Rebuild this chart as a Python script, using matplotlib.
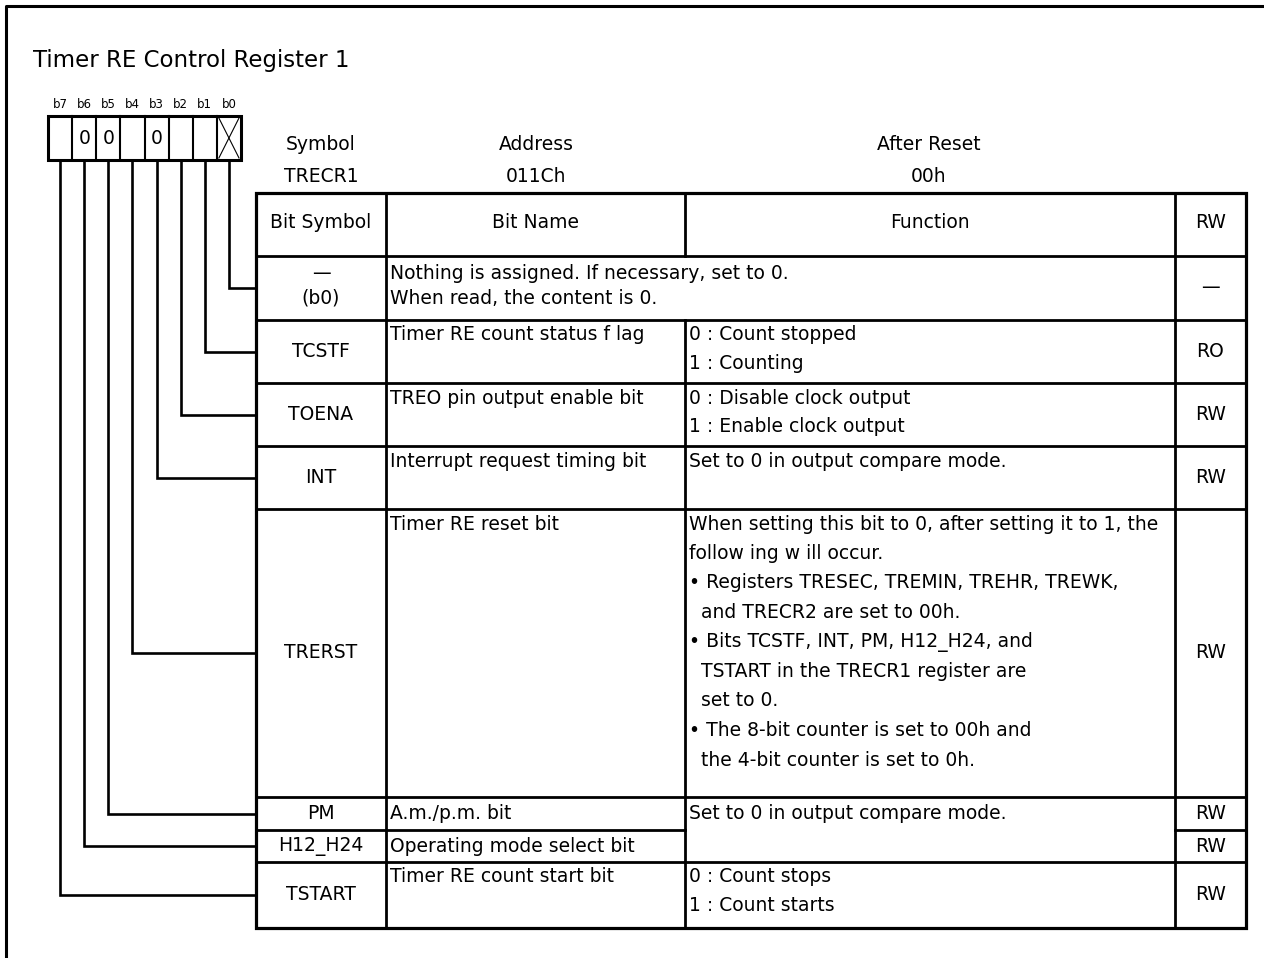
import matplotlib.pyplot as plt
from matplotlib.patches import Rectangle

plt.rcParams["font.family"] = ["DejaVu Sans"]

title = "Timer RE Control Register 1"

bit_labels = ["b7", "b6", "b5", "b4", "b3", "b2", "b1", "b0"]
bit_values = ["", "0", "0", "", "0", "", "", "X"]

info_heads = ["Symbol", "Address", "After Reset"]
info_values = ["TRECR1", "011Ch", "00h"]

headers = ["Bit Symbol", "Bit Name", "Function", "RW"]

# rows from b0 (top) to b7 (bottom)
symbols = [["—", "(b0)"], ["TCSTF"], ["TOENA"], ["INT"], ["TRERST"],
           ["PM"], ["H12_H24"], ["TSTART"]]
names = [["Nothing is assigned. If necessary, set to 0.",
          "When read, the content is 0."],
         ["Timer RE count status f lag"],
         ["TREO pin output enable bit"],
         ["Interrupt request timing bit"],
         ["Timer RE reset bit"],
         ["A.m./p.m. bit"],
         ["Operating mode select bit"],
         ["Timer RE count start bit"]]
functions = [None,
             ["0 : Count stopped", "1 : Counting"],
             ["0 : Disable clock output", "1 : Enable clock output"],
             ["Set to 0 in output compare mode."],
             ["When setting this bit to 0, after setting it to 1, the",
              "follow ing w ill occur.",
              "\u2022 Registers TRESEC, TREMIN, TREHR, TREWK,",
              "  and TRECR2 are set to 00h.",
              "\u2022 Bits TCSTF, INT, PM, H12_H24, and",
              "  TSTART in the TRECR1 register are",
              "  set to 0.",
              "\u2022 The 8-bit counter is set to 00h and",
              "  the 4-bit counter is set to 0h."],
             ["Set to 0 in output compare mode."],
             [],
             ["0 : Count stops", "1 : Count starts"]]
rw = ["—", "RO", "RW", "RW", "RW", "RW", "RW", "RW"]

# layout (pixels)
col_x = [256, 386, 685, 1175, 1246]
row_y = [193, 256, 320, 383, 446, 509, 797, 830, 862, 928]
box_x0, box_x1, box_y0, box_y1 = 48, 241, 116, 160
fs = 13.5
lw_tab = 2.0
k = "black"

fig = plt.figure(figsize=(12.64, 9.58), dpi=100)
ax = fig.add_axes([0, 0, 1, 1])
ax.set_xlim(0, 1264)
ax.set_ylim(958, 0)
ax.axis("off")

# outer frame
ax.plot([6, 6, 1264], [958, 6, 6], color=k, lw=2.2)
ax.text(33, 60, title, fontsize=16.5, ha="left", va="center")

# bit boxes
cw = (box_x1 - box_x0) / len(bit_labels)
ax.add_patch(Rectangle((box_x0, box_y0), box_x1 - box_x0, box_y1 - box_y0,
                       fill=False, ec=k, lw=2.2))
for i, (lab, val) in enumerate(zip(bit_labels, bit_values)):
    cx = box_x0 + (i + 0.5) * cw
    ax.text(cx, 104, lab, fontsize=8.5, ha="center", va="center")
    if i > 0:
        ax.plot([box_x0 + i * cw] * 2, [box_y0, box_y1], color=k, lw=1.5)
    if val == "X":
        xl, xr = box_x0 + i * cw + 2, box_x0 + (i + 1) * cw - 2
        ax.plot([xl, xr], [box_y0 + 2, box_y1 - 2], color=k, lw=0.8)
        ax.plot([xl, xr], [box_y1 - 2, box_y0 + 2], color=k, lw=0.8)
    elif val:
        ax.text(cx, (box_y0 + box_y1) / 2, val, fontsize=fs, ha="center", va="center")
    # connector down to its row
    r = len(bit_labels) - 1 - i
    yc = (row_y[r + 1] + row_y[r + 2]) / 2
    ax.plot([cx, cx, col_x[0]], [box_y1, yc, yc], color=k, lw=1.9,
            solid_joinstyle="miter")

# register info above table
for cx, h, v in zip([321, 536, 929], info_heads, info_values):
    ax.text(cx, 144, h, fontsize=fs, ha="center", va="center")
    ax.text(cx, 176, v, fontsize=fs, ha="center", va="center")

# table grid
ax.add_patch(Rectangle((col_x[0], row_y[0]), col_x[-1] - col_x[0],
                       row_y[-1] - row_y[0], fill=False, ec=k, lw=lw_tab + 0.3))
ax.plot([col_x[1]] * 2, [row_y[0], row_y[-1]], color=k, lw=lw_tab)
ax.plot([col_x[3]] * 2, [row_y[0], row_y[-1]], color=k, lw=lw_tab)
ax.plot([col_x[2]] * 2, [row_y[0], row_y[1]], color=k, lw=lw_tab)
ax.plot([col_x[2]] * 2, [row_y[2], row_y[-1]], color=k, lw=lw_tab)
for j, y in enumerate(row_y[1:-1], start=1):
    r = j - 1
    if r < len(functions) and functions[r] == []:
        ax.plot([col_x[0], col_x[2]], [y, y], color=k, lw=lw_tab)
        ax.plot([col_x[3], col_x[4]], [y, y], color=k, lw=lw_tab)
    else:
        ax.plot([col_x[0], col_x[-1]], [y, y], color=k, lw=lw_tab)

# header
hy = 222
for c, h in enumerate(headers):
    ax.text((col_x[c] + col_x[c + 1]) / 2, hy, h, fontsize=fs,
            ha="center", va="center")


def lines_at(x, y0, lines, step, ha="left"):
    for n, s in enumerate(lines):
        ax.text(x, y0 + n * step, s, fontsize=fs, ha=ha, va="center")


sym_cx = (col_x[0] + col_x[1]) / 2
rw_cx = (col_x[3] + col_x[4]) / 2
for r in range(len(symbols)):
    top, bot = row_y[r + 1], row_y[r + 2]
    mid = (top + bot) / 2
    step = 25 if r == 0 else 28.5
    single = (bot - top) < 40
    first = mid if single else top + 15
    if len(symbols[r]) > 1:
        lines_at(sym_cx, mid - step / 2 - 2, symbols[r], step, ha="center")
        lines_at(col_x[1] + 4, mid - step / 2 - 2, names[r], step)
    else:
        ax.text(sym_cx, mid, symbols[r][0], fontsize=fs, ha="center", va="center")
        lines_at(col_x[1] + 4, first, names[r], step)
    if functions[r]:
        lines_at(col_x[2] + 4, first, functions[r], 29.5 if r == 4 else step)
    ax.text(rw_cx, mid, rw[r], fontsize=fs, ha="center", va="center")

fig.savefig("out.png", dpi=100)
